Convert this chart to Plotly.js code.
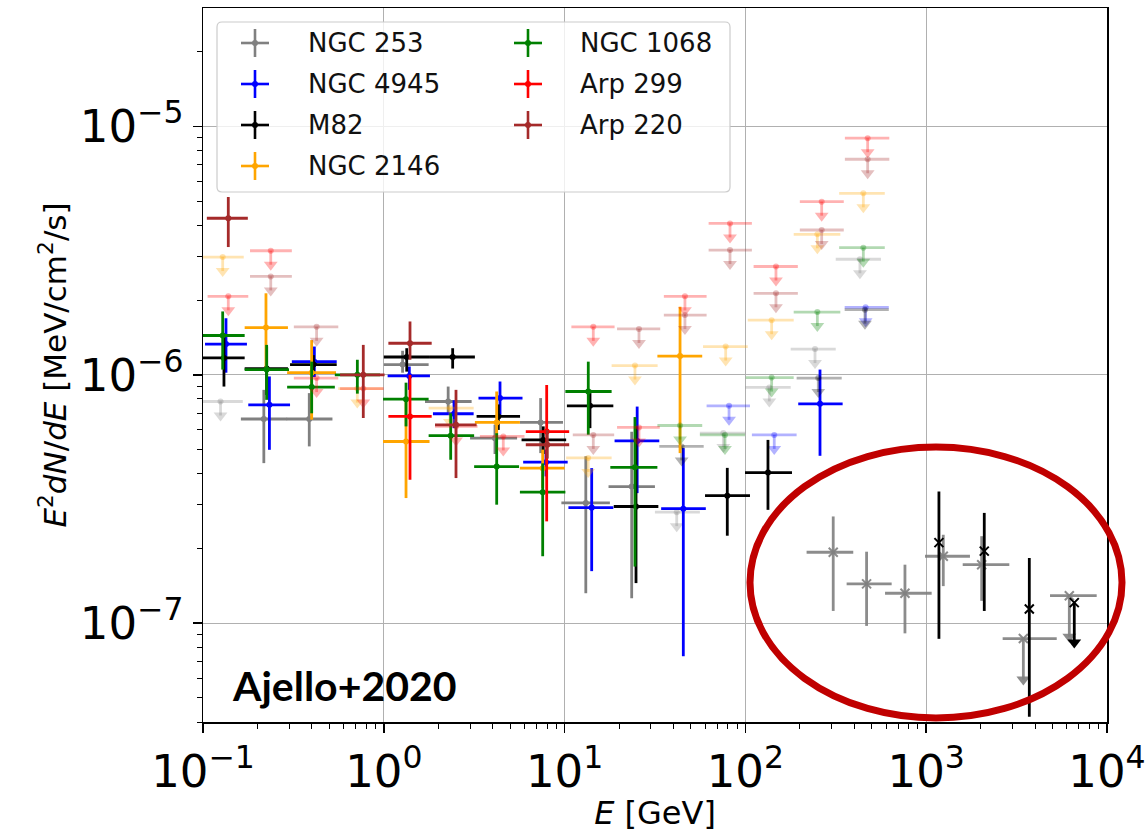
<!DOCTYPE html>
<html><head><meta charset="utf-8">
<script src="https://cdn.plot.ly/plotly-3.0.1.min.js"></script>
<style>html,body{margin:0;padding:0;background:#fff}#chart{width:1147px;height:832px}</style>
</head><body><div id="chart"></div>
<script>
// ================= DATA =================
const seriesNames = ['NGC 253', 'NGC 4945', 'M82', 'NGC 2146', 'NGC 1068', 'Arp 299', 'Arp 220'];

const xTickVals = [0.1, 1, 10, 100, 1000, 10000];
const xTickText = ['10<sup>\u22121</sup>', '10<sup>0</sup>', '10<sup>1</sup>', '10<sup>2</sup>', '10<sup>3</sup>', '10<sup>4</sup>'];
const yTickVals = [1e-7, 1e-6, 1e-5];
const yTickText = ['10<sup>\u22127</sup>', '10<sup>\u22126</sup>', '10<sup>\u22125</sup>'];

// NGC 253 (Fermi-LAT detections)
const n253_x   = [0.217, 0.387, 1.27, 2.27, 4.12, 7.37, 13.1, 23.5];
const n253_y   = [6.64e-7, 6.64e-7, 1.10e-6, 7.81e-7, 5.56e-7, 6.43e-7, 3.05e-7, 3.55e-7];
const n253_yhi = [8.7e-7, 8.44e-7, 1.25e-6, 8.97e-7, 6.3e-7, 8.06e-7, 4.7e-7, 5.9e-7];
const n253_ylo = [4.41e-7, 5.15e-7, 1.02e-6, 6.9e-7, 4.8e-7, 4.84e-7, 1.32e-7, 1.26e-7];
const n253_xlo = [0.162, 0.29, 1.0, 1.69, 3.0, 5.66, 9.6, 17.5];
const n253_xhi = [0.292, 0.52, 1.77, 3.06, 5.46, 9.8, 17.8, 31.6];
// NGC 253 upper limits
const n253_ul_x   = [0.125, 41.7, 75.5, 135.6, 242.7, 430];
const n253_ul_y   = [7.81e-7, 2.8e-7, 5.83e-7, 8.9e-7, 1.27e-6, 2.92e-6];
const n253_ul_xlo = [0.1, 31.6, 56, 100, 178, 316];
const n253_ul_xhi = [0.166, 56, 100, 178, 316, 562];
// NGC 253 (TeV points)
const n253tev_x   = [306, 468, 763, 1243, 2027];
const n253tev_y   = [1.93e-7, 1.44e-7, 1.32e-7, 1.86e-7, 1.72e-7];
const n253tev_yhi = [2.69e-7, 1.94e-7, 1.72e-7, 2.27e-7, 2.24e-7];
const n253tev_ylo = [1.12e-7, 9.75e-8, 9.1e-8, 1.41e-7, 1.23e-7];
const n253tev_xlo = [218, 363, 592, 985, 1592];
const n253tev_xhi = [395, 644, 1072, 1746, 2882];
const n253tev_ul_x   = [3446, 6188];
const n253tev_ul_y   = [8.67e-8, 1.29e-7];
const n253tev_ul_xlo = [2648, 4840];
const n253tev_ul_xhi = [5272, 8770];

// NGC 4945
const n4945_x   = [0.134, 0.233, 0.413, 1.384, 2.445, 4.393, 7.89, 14.12, 25.2, 45.35, 258.6];
const n4945_y   = [1.33e-6, 7.57e-7, 1.13e-6, 9.9e-7, 6.97e-7, 8.06e-7, 4.45e-7, 2.92e-7, 5.42e-7, 2.89e-7, 7.64e-7];
const n4945_yhi = [1.69e-6, 9.85e-7, 1.30e-6, 1.08e-6, 7.9e-7, 9.4e-7, 5.0e-7, 4.21e-7, 7.45e-7, 5.07e-7, 1.05e-6];
const n4945_ylo = [1.02e-6, 4.99e-7, 9.8e-7, 8.7e-7, 6.1e-7, 6.9e-7, 3.9e-7, 1.62e-7, 3.34e-7, 7.36e-8, 4.72e-7];
const n4945_xlo = [0.1026, 0.178, 0.31, 1.05, 1.87, 3.34, 5.9, 10.5, 18.9, 34.2, 196];
const n4945_xhi = [0.175, 0.303, 0.549, 1.80, 3.14, 5.85, 10.4, 18.6, 33.4, 60.4, 345];
const n4945_ul_x   = [81.2, 144.4, 462.5];
const n4945_ul_y   = [7.5e-7, 5.73e-7, 1.87e-6];
const n4945_ul_xlo = [61, 108.6, 354];
const n4945_ul_xhi = [106, 192, 621];

// M82
const m82_x   = [0.1306, 0.225, 0.408, 1.339, 2.404, 4.3, 7.62, 13.82, 24.83, 79.4, 133.3];
const m82_y   = [1.17e-6, 1.06e-6, 1.10e-6, 1.18e-6, 1.18e-6, 6.8e-7, 5.47e-7, 7.5e-7, 2.95e-7, 3.26e-7, 4.04e-7];
const m82_yhi = [1.45e-6, 1.30e-6, 1.2e-6, 1.28e-6, 1.28e-6, 7.6e-7, 6.2e-7, 8.7e-7, 6.2e-7, 4.22e-7, 5.47e-7];
const m82_ylo = [8.97e-7, 8.3e-7, 1.0e-6, 1.03e-6, 1.06e-6, 6.0e-7, 4.8e-7, 6.1e-7, 1.45e-7, 2.25e-7, 2.86e-7];
const m82_xlo = [0.1, 0.17, 0.303, 1.0, 1.8, 3.26, 5.78, 10.3, 18.7, 59.8, 99.5];
const m82_xhi = [0.17, 0.295, 0.549, 1.8, 3.19, 5.67, 10.2, 18.6, 33, 106, 181];
const m82_ul_x   = [44.4, 253, 458.5];
const m82_ul_y   = [5.15e-7, 9.7e-7, 1.83e-6];
const m82_ul_xlo = [33.4, 192, 354];
const m82_ul_xhi = [58.8, 341, 621];
// M82 (TeV points)
const m82tev_x   = [1176, 2095, 3718];
const m82tev_y   = [2.11e-7, 1.95e-7, 1.14e-7];
const m82tev_yhi = [3.39e-7, 2.78e-7, 1.83e-7];
const m82tev_ylo = [8.65e-8, 1.12e-7, 4.2e-8];
const m82tev_ul_x = [6592];
const m82tev_ul_y = [1.21e-7];

// NGC 2146
const n2146_x   = [0.223, 0.399, 1.327, 4.21, 7.565, 43.5];
const n2146_y   = [1.55e-6, 1.02e-6, 5.39e-7, 6.43e-7, 4.21e-7, 1.19e-6];
const n2146_yhi = [2.13e-6, 1.38e-6, 8.0e-7, 8.57e-7, 5.0e-7, 1.88e-6];
const n2146_ylo = [1.05e-6, 6.6e-7, 3.19e-7, 5.5e-7, 3.5e-7, 4.84e-7];
const n2146_xlo = [0.17, 0.292, 0.99, 3.19, 5.66, 32.6];
const n2146_xhi = [0.295, 0.544, 1.79, 5.66, 10.0, 57.7];
const n2146_ul_x   = [0.1285, 0.7136, 2.32, 13.5, 24.5, 77.8, 139.7, 250, 449];
const n2146_ul_y   = [2.98e-6, 8.8e-7, 7.35e-7, 4.63e-7, 1.09e-6, 1.30e-6, 1.66e-6, 3.68e-6, 5.38e-6];
const n2146_ul_xlo = [0.1, 0.56, 1.77, 10.2, 18.2, 58.3, 103, 185, 330];
const n2146_ul_xhi = [0.168, 0.99, 3.14, 18.2, 32.7, 103, 185, 335, 590];

// NGC 1068
const n1068_x   = [0.1285, 0.2249, 0.399, 0.714, 1.327, 2.344, 4.211, 7.565, 13.52, 24.5];
const n1068_y   = [1.44e-6, 1.05e-6, 8.93e-7, 1.0e-6, 7.98e-7, 5.69e-7, 4.27e-7, 3.37e-7, 8.57e-7, 4.24e-7];
const n1068_yhi = [1.80e-6, 1.32e-6, 1.13e-6, 1.15e-6, 9.3e-7, 7.0e-7, 5.82e-7, 4.4e-7, 1.13e-6, 6.76e-7];
const n1068_ylo = [1.05e-6, 7.93e-7, 7.0e-7, 8.4e-7, 6.2e-7, 4.55e-7, 3.0e-7, 1.86e-7, 5.74e-7, 1.69e-7];
const n1068_xlo = [0.1, 0.17, 0.292, 0.536, 0.99, 1.77, 3.16, 5.66, 10.1, 17.9];
const n1068_xhi = [0.17, 0.299, 0.536, 0.953, 1.77, 3.16, 5.6, 10.1, 18.2, 32.6];
const n1068_ul_x   = [43.5, 77.1, 139.7, 250, 449];
const n1068_ul_y   = [6.25e-7, 5.73e-7, 9.75e-7, 1.79e-6, 3.25e-6];
const n1068_ul_xlo = [32.6, 56, 100.5, 185, 330];
const n1068_ul_xhi = [57.7, 99.5, 185, 335, 590];

// Arp 299
const a299_x   = [1.396, 7.96];
const a299_y   = [6.8e-7, 5.91e-7];
const a299_yhi = [1.0e-6, 9.1e-7];
const a299_ylo = [3.78e-7, 2.57e-7];
const a299_xlo = [1.06, 6.1];
const a299_xhi = [1.84, 10.6];
const a299_ul_x   = [0.138, 0.237, 0.425, 0.77, 2.51, 4.58, 14.41, 25.79, 46.3, 82.2, 147.6, 264.2, 474.5];
const a299_ul_y   = [2.07e-6, 3.16e-6, 9.7e-7, 8.8e-7, 6.2e-7, 5.65e-7, 1.56e-6, 6.14e-7, 2.07e-6, 4.07e-6, 2.73e-6, 4.98e-6, 8.97e-6];
const a299_ul_xlo = [0.106, 0.182, 0.318, 0.573, 1.92, 3.4, 10.9, 19.5, 35.4, 62.6, 111, 200, 355];
const a299_ul_xhi = [0.178, 0.31, 0.56, 1.0, 3.3, 6.0, 18.9, 33.6, 61, 108.6, 195, 350, 625];

// Arp 220
const a220_x   = [0.138, 0.77, 1.396, 2.508, 8.02];
const a220_y   = [4.27e-6, 1.0e-6, 1.34e-6, 6.29e-7, 5.23e-7];
const a220_yhi = [5.2e-6, 1.32e-6, 1.64e-6, 8.7e-7, 6.0e-7];
const a220_ylo = [3.27e-6, 6.7e-7, 1.15e-6, 3.84e-7, 4.6e-7];
const a220_xlo = [0.105, 0.573, 1.06, 1.92, 6.1];
const a220_xhi = [0.177, 1.01, 1.84, 3.26, 10.6];
const a220_ul_x   = [0.237, 0.425, 14.41, 25.79, 46.3, 82.2, 147.6, 264.2, 474.5];
const a220_ul_y   = [2.49e-6, 1.56e-6, 5.73e-7, 1.53e-6, 1.74e-6, 3.18e-6, 2.13e-6, 3.83e-6, 7.38e-6];
const a220_ul_xlo = [0.182, 0.318, 11.1, 19.5, 35.4, 62.6, 111, 200, 355];
const a220_ul_xhi = [0.31, 0.56, 18.8, 33.8, 61, 108.6, 195, 350, 625];

const annotationText = 'Ajello+2020';

// ================= STYLE / LAYOUT =================
const W = 1147, H = 832;
const M = {l: 203, r: 40, t: 8, b: 110};
const plotW = W - M.l - M.r, plotH = H - M.t - M.b;
const yRange = [Math.log10(4e-8), Math.log10(3e-5)];
const pxPerDecY = plotH / (yRange[1] - yRange[0]);
function downPx(v, px) { return v * Math.pow(10, -px / pxPerDecY); }
function PX(px) { return (px - M.l) / plotW; }
function PY(py) { return (H - M.b - py) / plotH; }

const COL = {
  'NGC 253': [128,128,128], 'NGC 4945': [0,0,255], 'M82': [0,0,0],
  'NGC 2146': [255,165,0], 'NGC 1068': [0,128,0], 'Arp 299': [255,0,0], 'Arp 220': [165,42,42]
};
function rgba(c, a) { return 'rgba(' + c[0] + ',' + c[1] + ',' + c[2] + ',' + a + ')'; }

const BAR = 2.8;
const traces = [];
function addDet(x, y, ylo, yhi, xlo, xhi, color, symbol) {
  const t = {
    type: 'scatter', mode: 'markers', x: x, y: y, hoverinfo: 'skip', showlegend: false,
    marker: symbol ? {symbol: symbol, size: 9, color: color, line: {color: color, width: 2}}
                   : {symbol: 'circle', size: 6, color: color, line: {width: 0}},
    error_y: {type: 'data', symmetric: false, array: yhi.map((v, i) => v - y[i]),
              arrayminus: ylo.map((v, i) => y[i] - v), color: color, thickness: BAR, width: 0}
  };
  if (xlo) {
    t.error_x = {type: 'data', symmetric: false, array: xhi.map((v, i) => v - x[i]),
                 arrayminus: xlo.map((v, i) => x[i] - v), color: color, thickness: BAR, width: 0};
  }
  traces.push(t);
}
function addUL(x, y, xlo, xhi, color, stemPx, head, dot, symbol) {
  const lx = [], ly = [];
  for (let i = 0; i < x.length; i++) {
    if (xlo) { lx.push(xlo[i], xhi[i], null); ly.push(y[i], y[i], null); }
    lx.push(x[i], x[i], null); ly.push(y[i], downPx(y[i], stemPx), null);
  }
  traces.push({type: 'scatter', mode: 'lines', x: lx, y: ly, hoverinfo: 'skip', showlegend: false,
               line: {color: color, width: BAR}});
  if (dot) {
    traces.push({type: 'scatter', mode: 'markers', x: x, y: y, hoverinfo: 'skip', showlegend: false,
                 marker: symbol ? {symbol: symbol, size: 9, color: color, line: {color: color, width: 2}}
                                : {symbol: 'circle', size: 6, color: color, line: {width: 0}}});
  }
  traces.push({type: 'scatter', mode: 'markers', x: x, y: y.map(v => downPx(v, stemPx)), hoverinfo: 'skip',
               showlegend: false, marker: {symbol: 'triangle-down', size: head, color: color, line: {width: 0}}});
}

const FADE = 0.3;
// NGC 253
addUL(n253_ul_x, n253_ul_y, n253_ul_xlo, n253_ul_xhi, rgba(COL['NGC 253'], FADE), 14, 12, true);
addDet(n253_x, n253_y, n253_ylo, n253_yhi, n253_xlo, n253_xhi, rgba(COL['NGC 253'], 1));
addDet(n253tev_x, n253tev_y, n253tev_ylo, n253tev_yhi, n253tev_xlo, n253tev_xhi, 'rgba(128,128,128,0.9)', 'x-thin-open');
addUL(n253tev_ul_x, n253tev_ul_y, n253tev_ul_xlo, n253tev_ul_xhi, 'rgba(128,128,128,0.9)', 41, 12, true, 'x-thin-open');
// NGC 4945
addUL(n4945_ul_x, n4945_ul_y, n4945_ul_xlo, n4945_ul_xhi, rgba(COL['NGC 4945'], FADE), 14, 12, true);
addDet(n4945_x, n4945_y, n4945_ylo, n4945_yhi, n4945_xlo, n4945_xhi, rgba(COL['NGC 4945'], 1));
// M82
addUL(m82_ul_x, m82_ul_y, m82_ul_xlo, m82_ul_xhi, rgba(COL['M82'], FADE), 14, 12, true);
addDet(m82_x, m82_y, m82_ylo, m82_yhi, m82_xlo, m82_xhi, rgba(COL['M82'], 1));
addDet(m82tev_x, m82tev_y, m82tev_ylo, m82tev_yhi, null, null, 'rgba(0,0,0,1)', 'x-thin-open');
addUL(m82tev_ul_x, m82tev_ul_y, null, null, 'rgba(0,0,0,1)', 40, 12, true, 'x-thin-open');
// NGC 2146
addUL(n2146_ul_x, n2146_ul_y, n2146_ul_xlo, n2146_ul_xhi, rgba(COL['NGC 2146'], FADE), 14, 12, true);
addDet(n2146_x, n2146_y, n2146_ylo, n2146_yhi, n2146_xlo, n2146_xhi, rgba(COL['NGC 2146'], 1));
// NGC 1068
addUL(n1068_ul_x, n1068_ul_y, n1068_ul_xlo, n1068_ul_xhi, rgba(COL['NGC 1068'], FADE), 14, 12, true);
addDet(n1068_x, n1068_y, n1068_ylo, n1068_yhi, n1068_xlo, n1068_xhi, rgba(COL['NGC 1068'], 1));
// Arp 299
addUL(a299_ul_x, a299_ul_y, a299_ul_xlo, a299_ul_xhi, rgba(COL['Arp 299'], FADE), 14, 12, true);
addDet(a299_x, a299_y, a299_ylo, a299_yhi, a299_xlo, a299_xhi, rgba(COL['Arp 299'], 1));
// Arp 220
addUL(a220_ul_x, a220_ul_y, a220_ul_xlo, a220_ul_xhi, rgba(COL['Arp 220'], FADE), 14, 12, true);
addDet(a220_x, a220_y, a220_ylo, a220_yhi, a220_xlo, a220_xhi, rgba(COL['Arp 220'], 1));

// minor ticks
const xMinor = [], yMinor = [];
for (let e = -1; e < 4; e++) for (let d = 2; d <= 9; d++) xMinor.push(d * Math.pow(10, e));
for (let e = -8; e < -4; e++) for (let d = 2; d <= 9; d++) {
  const v = d * Math.pow(10, e);
  if (v >= 4e-8 && v <= 3e-5) yMinor.push(v);
}

// legend (drawn manually to mimic matplotlib errorbar legend)
const shapes = [];
const annotations = [];
const lgX0 = 217, lgX1 = 730, lgY0 = 22, lgY1 = 192, rr = 5;
const lgPath = 'M' + PX(lgX0 + rr) + ',' + PY(lgY0) + ' L' + PX(lgX1 - rr) + ',' + PY(lgY0) +
  ' Q' + PX(lgX1) + ',' + PY(lgY0) + ' ' + PX(lgX1) + ',' + PY(lgY0 + rr) +
  ' L' + PX(lgX1) + ',' + PY(lgY1 - rr) + ' Q' + PX(lgX1) + ',' + PY(lgY1) + ' ' + PX(lgX1 - rr) + ',' + PY(lgY1) +
  ' L' + PX(lgX0 + rr) + ',' + PY(lgY1) + ' Q' + PX(lgX0) + ',' + PY(lgY1) + ' ' + PX(lgX0) + ',' + PY(lgY1 - rr) +
  ' L' + PX(lgX0) + ',' + PY(lgY0 + rr) + ' Q' + PX(lgX0) + ',' + PY(lgY0) + ' ' + PX(lgX0 + rr) + ',' + PY(lgY0) + ' Z';
shapes.push({type: 'path', xref: 'paper', yref: 'paper', path: lgPath, fillcolor: 'rgba(255,255,255,0.8)',
             line: {color: '#cccccc', width: 1.2}, layer: 'above'});
const rowsY = [43, 84, 125, 166];
seriesNames.forEach((name, i) => {
  const col = i < 4 ? 0 : 1;
  const row = i < 4 ? i : i - 4;
  const cx = col === 0 ? 255 : 528;
  const tx = col === 0 ? 306 : 578;
  const cy = rowsY[row];
  const c = rgba(COL[name], 1);
  shapes.push({type: 'line', xref: 'paper', yref: 'paper', x0: PX(cx - 14), x1: PX(cx + 14), y0: PY(cy), y1: PY(cy),
               line: {color: c, width: 2.6}, layer: 'above'});
  shapes.push({type: 'line', xref: 'paper', yref: 'paper', x0: PX(cx), x1: PX(cx), y0: PY(cy - 14), y1: PY(cy + 14),
               line: {color: c, width: 2.6}, layer: 'above'});
  shapes.push({type: 'circle', xref: 'paper', yref: 'paper', x0: PX(cx - 3), x1: PX(cx + 3), y0: PY(cy - 3), y1: PY(cy + 3),
               fillcolor: c, line: {width: 0}, layer: 'above'});
  annotations.push({xref: 'paper', yref: 'paper', x: PX(tx), y: PY(cy), xanchor: 'left', yanchor: 'middle',
                    text: name, showarrow: false, font: {family: 'DejaVu Sans', size: 26, color: '#111'}});
});

// red ellipse highlight
shapes.push({type: 'circle', xref: 'paper', yref: 'paper', x0: PX(750), x1: PX(1122), y0: PY(718), y1: PY(447),
             line: {color: '#c00000', width: 7}, layer: 'above'});

annotations.push({xref: 'paper', yref: 'paper', x: PX(230), y: PY(685), xanchor: 'left', yanchor: 'middle',
                  text: '<b>' + annotationText + '</b>', showarrow: false,
                  font: {family: 'Lato, Open Sans, sans-serif', size: 41, color: 'black'}});

const axisCommon = {
  type: 'log', showline: true, linecolor: 'black', linewidth: 1.5, mirror: true,
  ticks: 'outside', ticklen: 9, tickwidth: 1.5, tickcolor: 'black',
  showgrid: true, gridcolor: '#b0b0b0', gridwidth: 1, zeroline: false, automargin: false,
  tickfont: {family: 'DejaVu Sans', size: 45, color: 'black'}
};
const layout = {
  width: W, height: H, margin: {l: M.l, r: M.r, t: M.t, b: M.b, pad: 0},
  paper_bgcolor: 'white', plot_bgcolor: 'white', showlegend: false,
  xaxis: Object.assign({}, axisCommon, {
    range: [-1, 4], tickmode: 'array', tickvals: xTickVals, ticktext: xTickText,
    title: {text: '<i>E</i> [GeV]', font: {family: 'DejaVu Sans', size: 32, color: 'black'}, standoff: 4},
    minor: {tickmode: 'array', tickvals: xMinor, ticks: 'outside', ticklen: 5, tickwidth: 1, tickcolor: 'black', showgrid: false}
  }),
  yaxis: Object.assign({}, axisCommon, {
    range: yRange, tickmode: 'array', tickvals: yTickVals, ticktext: yTickText,
    title: {text: '<i>E</i><sup>2</sup><i>dN</i>/<i>dE</i> [MeV/cm<sup>2</sup>/s]',
            font: {family: 'DejaVu Sans', size: 31, color: 'black'}, standoff: 4},
    minor: {tickmode: 'array', tickvals: yMinor, ticks: 'outside', ticklen: 5, tickwidth: 1, tickcolor: 'black', showgrid: false}
  }),
  shapes: shapes, annotations: annotations
};
Plotly.newPlot('chart', traces, layout, {staticPlot: true, displayModeBar: false});
</script></body></html>
